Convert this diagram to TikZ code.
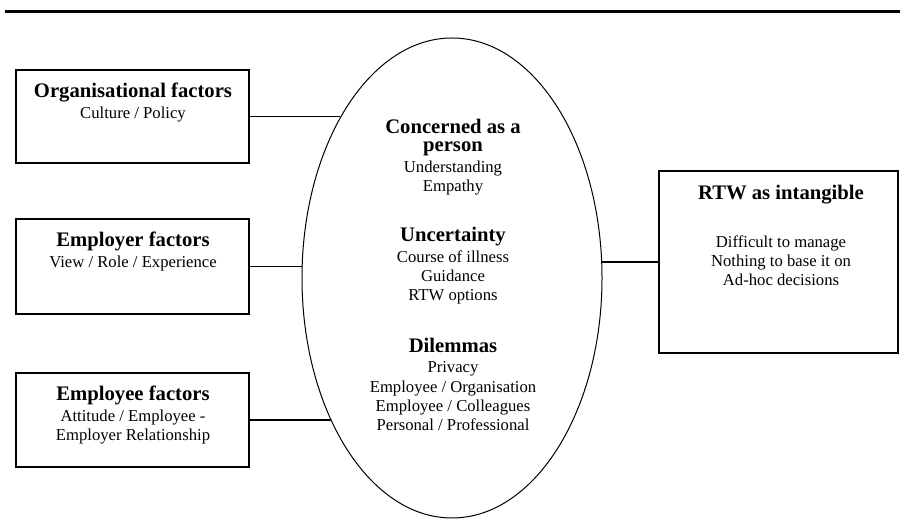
\documentclass[tikz,border=0pt]{standalone}
\usepackage{fontspec}
\setmainfont{Liberation Serif}
\usetikzlibrary{shapes.geometric}
\newcommand{\ttlfont}{\bfseries\fontsize{15.5}{14.6}\selectfont}
\begin{document}
\begin{tikzpicture}[x=0.75pt, y=-0.75pt,
    box/.style={draw, line width=0.9pt, inner sep=0pt, minimum width=174.75pt},
    txt/.style={align=center, inner sep=0pt, anchor=base, font=\fontsize{12.5}{14.6}\selectfont},
    link/.style={line width=0.8pt}]
    \useasboundingbox (0,0) rectangle (900,530);
    \draw[line width=2.25pt] (5,11.5) -- (900,11.5);
    \node[box, minimum height=69.75pt] (org) at (132.5,116.5) {};
    \node[box, minimum height=71.25pt] (emp) at (132.5,266.5) {};
    \node[box, minimum height=70.5pt] (ee) at (132.5,420) {};
    \node[box, minimum width=179.25pt, minimum height=136.5pt] (rtw) at (778.5,262) {};
    \node[draw, ellipse, line width=0.75pt, inner sep=0pt, minimum width=225pt, minimum height=360pt] (core) at (452,278) {};
    % the base anchor sits on the last line
    \node[txt] (orgt) at (133,119) {{\ttlfont Organisational factors}\\[1.5pt]Culture / Policy};
    \node[txt] (empt) at (133,268) {{\ttlfont Employer factors}\\[1.5pt]View / Role / Experience};
    \node[txt] (eet) at (133,441) {{\ttlfont Employee factors}\\[1.5pt]Attitude / Employee -\\Employer Relationship};
    \node[txt] (rtwt) at (781,200) {\ttlfont RTW as intangible};
    \node[txt] (rtwb) at (781,286) {Difficult to manage\\Nothing to base it on\\Ad-hoc decisions};
    \node[txt] (per) at (453,192) {{\ttlfont Concerned as a}\\[-0.4pt]{\ttlfont person}\\[0.8pt]Understanding\\Empathy};
    \node[txt] (unc) at (453,301) {{\ttlfont Uncertainty}\\[0.8pt]Course of illness\\Guidance\\RTW options};
    \node[txt] (dil) at (453,431) {{\ttlfont Dilemmas}\\[0.8pt]Privacy\\Employee / Organisation\\Employee / Colleagues\\Personal / Professional};
    \draw[link] (org.east) -- (org.east -| core.125);
    \draw[link] (emp.east) -- (emp.east -| core.176);
    \draw[link] (ee.east) -- (ee.east -| core.230);
    \draw[link] (rtw.west) -- (rtw.west -| core.6);
\end{tikzpicture}
\end{document}
